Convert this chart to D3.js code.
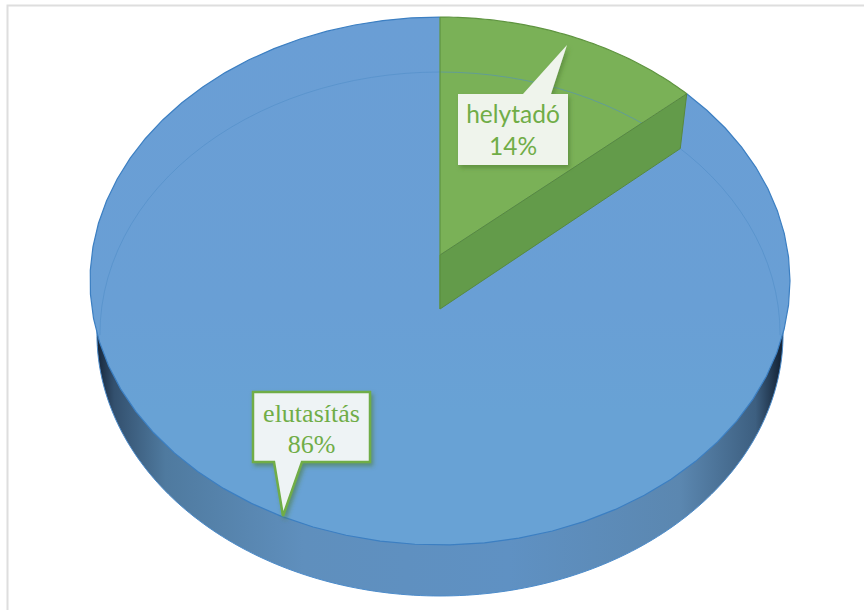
<!DOCTYPE html>
<html>
<head>
<meta charset="utf-8">
<script src="https://cdnjs.cloudflare.com/ajax/libs/d3/7.8.5/d3.min.js"></script>
<style>
  html, body { margin: 0; padding: 0; background: #fff; }
  svg { display: block; }
</style>
</head>
<body>
<div id="chart"></div>
<script>
// data (the wedge is a bit under 14, labels round it)
const categories = ['helytadó', 'elutasítás'];
const shares = [13.6, 86.4];
const sliceColors = ['#7ab157', '#699fd6'];

const width = 864, height = 610;

const svg = d3.select('#chart').append('svg')
    .attr('width', width)
    .attr('height', height);

const defs = svg.append('defs');

// side wall goes dark towards both ends
const wall = defs.append('linearGradient').attr('id', 'wall');
[[0, '#16263a'], [0.025, '#33506e'], [0.1, '#4f7a9f'], [0.3, '#5f8fbd'],
 [0.6, '#5f91c3'], [0.85, '#5b87b0'], [0.96, '#3d5f80'], [0.995, '#16263a']]
  .forEach(s => wall.append('stop').attr('offset', s[0]).attr('stop-color', s[1]));

const face = defs.append('linearGradient').attr('id', 'face')
    .attr('x1', 0).attr('y1', 0).attr('x2', 0).attr('y2', 1);
face.append('stop').attr('offset', 0).attr('stop-color', '#6a9ed5');
face.append('stop').attr('offset', 0.55).attr('stop-color', '#699fd5');
face.append('stop').attr('offset', 0.75).attr('stop-color', '#68a2d5');

const shadow = defs.append('filter').attr('id', 'shadow')
    .attr('x', '-20%').attr('y', '-20%').attr('width', '150%').attr('height', '150%');
shadow.append('feDropShadow')
    .attr('dx', 2).attr('dy', 3).attr('stdDev', 3)
    .attr('flood-color', '#4c7a33').attr('flood-opacity', 0.55);

// perspective of the disc: unit circle to screen
function ring(cx, cy, a, b, k) {
  return function(angle) {
    const u = Math.sin(angle), v = Math.cos(angle), w = 1 + k * v;
    return [cx + a * u / w, cy - b * v / w];
  };
}
const apex = [440, 255];
const topRing = ring(apex[0], apex[1], 348.3, 261.4, 0.0985);
const lowRing = ring(440, 309, 338.5, 259.6, 0.0954);
// outer silhouette of the wall is a little wider than the rim line
const wallRing = ring(440, 309, 341.5, 259.6, 0.0954);

const pie = d3.pie().sort(null).value(d => d);
const slices = pie(shares);

const line = d3.line();
const full = d3.range(0, 2 * Math.PI, Math.PI / 180);
const arcPoints = (fn, a0, a1) =>
  d3.range(0, 61).map(i => fn(a0 + (a1 - a0) * i / 60));

// frame of the pasted picture
svg.append('path')
    .attr('d', 'M7.5,610V5.5H864')
    .attr('fill', 'none')
    .attr('stroke', '#dedede')
    .attr('stroke-width', 2);

// lower disc, only its front shows as the wall
svg.append('path')
    .attr('d', line(full.map(wallRing)) + 'Z')
    .attr('fill', 'url(#wall)')
    .attr('stroke', '#4d8ccb')
    .attr('stroke-width', 1);

// top faces
svg.selectAll('.slice')
  .data(slices)
  .enter().append('path')
    .attr('class', 'slice')
    .attr('d', d => line([apex].concat(arcPoints(topRing, d.startAngle, d.endAngle))) + 'Z')
    .attr('fill', (d, i) => i === 1 ? 'url(#face)' : sliceColors[i]);

// edge of the whole disc
svg.append('path')
    .attr('d', line(arcPoints(topRing, slices[1].startAngle, slices[1].endAngle)))
    .attr('fill', 'none')
    .attr('stroke', '#3c7fc2')
    .attr('stroke-width', 1.2);
svg.append('path')
    .attr('d', line(arcPoints(topRing, slices[0].startAngle, slices[0].endAngle)))
    .attr('fill', 'none')
    .attr('stroke', '#5f9440')
    .attr('stroke-width', 1.2);

// back rim seen through the face
svg.append('path')
    .attr('d', line(arcPoints(lowRing, -Math.PI / 2 - 0.1, Math.PI / 2 + 0.1)))
    .attr('fill', 'none')
    .attr('stroke', '#4f8cc6')
    .attr('stroke-opacity', 0.55)
    .attr('stroke-width', 1);

// cut face of the green wedge
const end = slices[0].endAngle;
svg.append('path')
    .attr('d', line([apex, topRing(end), lowRing(end), [440, 309]]) + 'Z')
    .attr('fill', '#639b4a')
    .attr('stroke', '#58893d')
    .attr('stroke-width', 1);
svg.append('path')
    .attr('d', line([[440, 17], [440, 309]]))
    .attr('stroke', '#5f9440')
    .attr('stroke-width', 1.2);

// callouts
const labelFmt = d3.format('.0f');
const callouts = [
  { box: [458, 94, 568, 165], base: [523, 551], tip: [567, 45], below: false, font: 'Lato', size: 24.5,
    stroke: 'none', fill: '#eff4ec', lines: [123, 155] },
  { box: [253, 392, 370, 462], base: [274, 302], tip: [283, 516], below: true, font: '"Liberation Serif"', size: 26,
    stroke: '#70ad47', fill: '#eef3f5', lines: [422, 453] }
];

callouts.forEach((c, i) => {
  const [x0, y0, x1, y1] = c.box;
  const pts = c.below
    ? [[x0, y0], [x1, y0], [x1, y1], [c.base[1], y1], c.tip, [c.base[0], y1], [x0, y1]]
    : [[x0, y0], [c.base[0], y0], c.tip, [c.base[1], y0], [x1, y0], [x1, y1], [x0, y1]];
  svg.append('path')
      .attr('d', line(pts) + 'Z')
      .attr('fill', c.fill)
      .attr('stroke', c.stroke)
      .attr('stroke-width', 2.5)
      .attr('filter', 'url(#shadow)');
  const cx = (x0 + x1) / 2;
  [categories[i], labelFmt(shares[i]) + '%'].forEach((t, j) => {
    svg.append('text')
        .attr('x', cx)
        .attr('y', c.lines[j])
        .attr('text-anchor', 'middle')
        .attr('font-family', c.font)
        .attr('font-size', c.size)
        .attr('fill', '#70ad47')
        .text(t);
  });
});
</script>
</body>
</html>
